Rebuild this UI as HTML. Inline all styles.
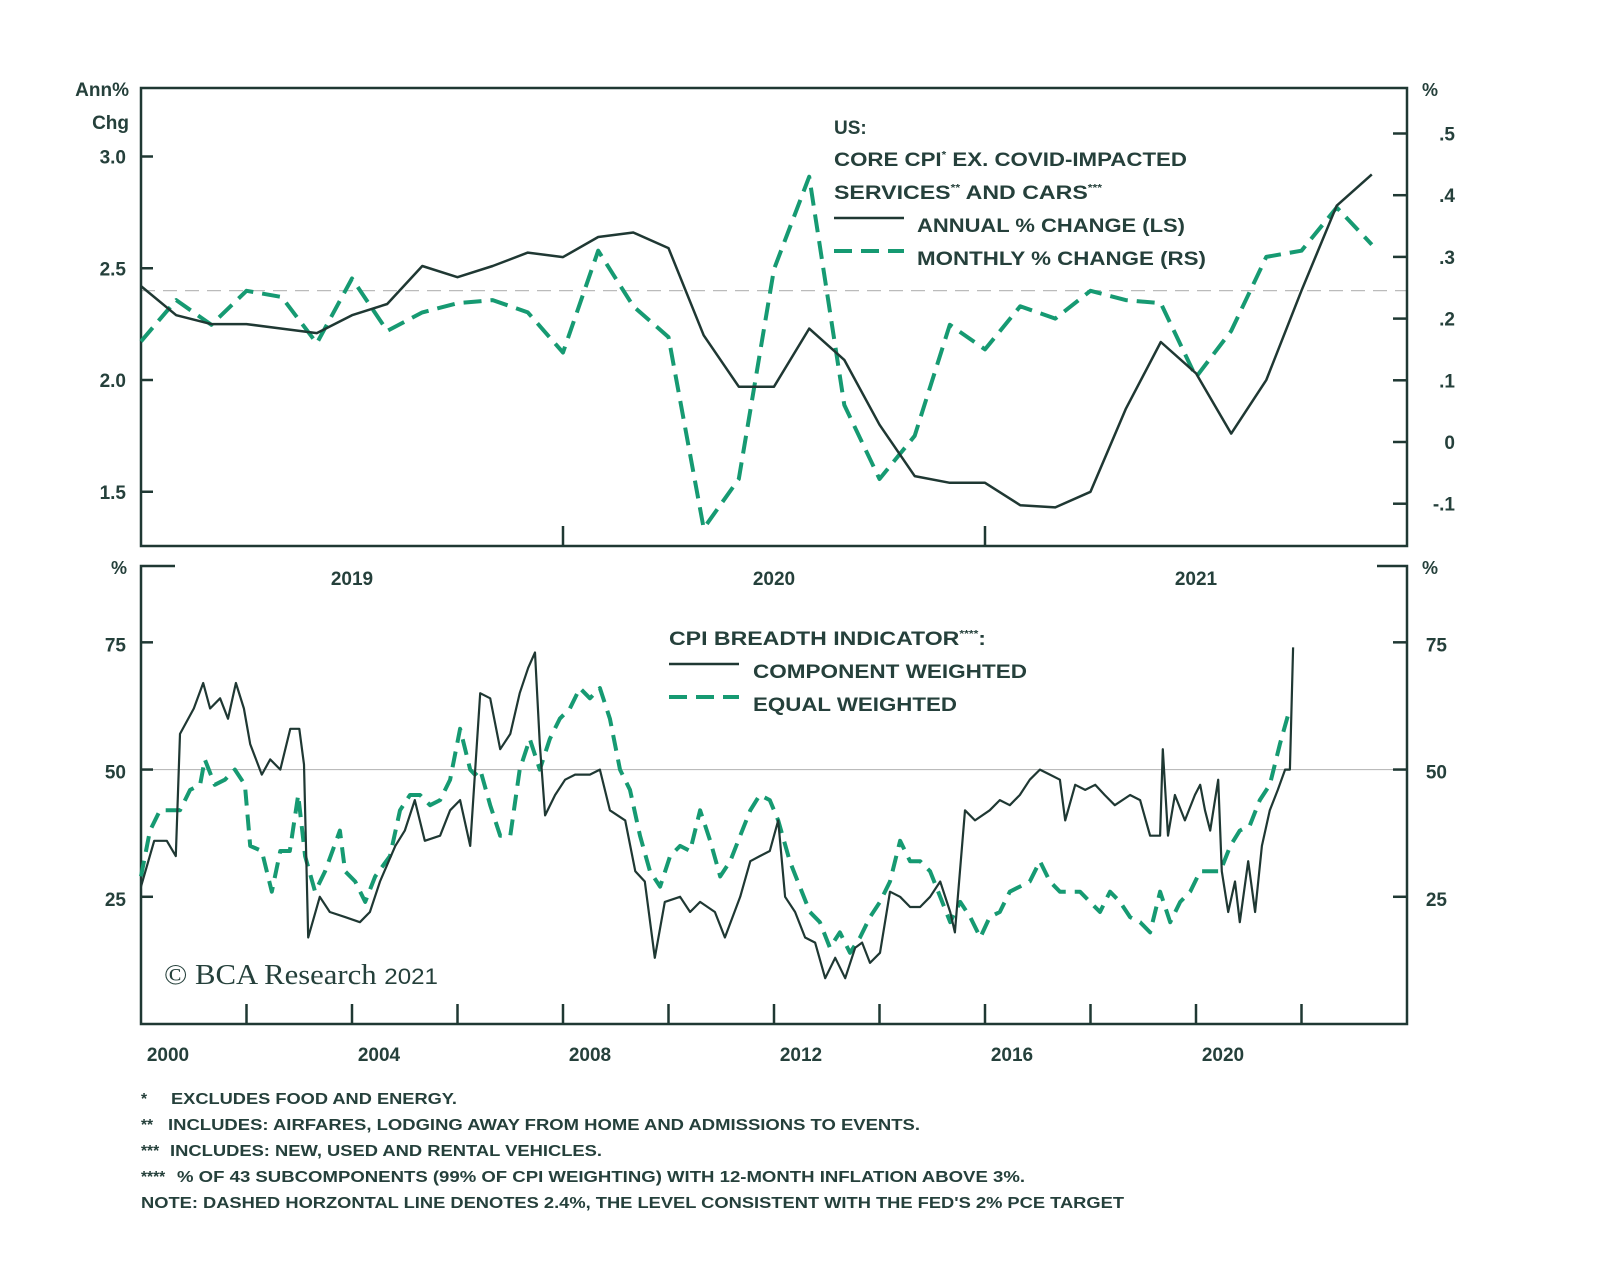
<!DOCTYPE html>
<html><head><meta charset="utf-8"><style>
body{margin:0;background:#fff}
svg{display:block;font-family:"Liberation Sans",sans-serif}
.t{fill:#25403b;font-weight:bold}
</style></head><body>
<svg id="chart" width="1600" height="1265" viewBox="0 0 1600 1265" xmlns="http://www.w3.org/2000/svg">
<g id="topPanel"></g>
<g id="botPanel"></g>
<g class="t" font-size="19">
<text x="834" y="134">US:</text>
<text x="834" y="166" textLength="353" lengthAdjust="spacingAndGlyphs">CORE CPI<tspan font-size="10" dy="-8">*</tspan><tspan dy="8"> EX. COVID-IMPACTED</tspan></text>
<text x="834" y="199" textLength="268" lengthAdjust="spacingAndGlyphs">SERVICES<tspan font-size="10" dy="-8">**</tspan><tspan dy="8"> AND CARS</tspan><tspan font-size="10" dy="-8">***</tspan></text>
<line x1="834" y1="218" x2="904" y2="218" stroke="#1f3833" stroke-width="2.5"/>
<text x="917" y="232" textLength="268" lengthAdjust="spacingAndGlyphs">ANNUAL % CHANGE (LS)</text>
<line x1="834" y1="251" x2="904" y2="251" stroke="#169a72" stroke-width="4" stroke-dasharray="18,9"/>
<text x="917" y="265" textLength="289" lengthAdjust="spacingAndGlyphs">MONTHLY % CHANGE (RS)</text>
</g>
<g class="t" font-size="19">
<text x="669" y="645" textLength="317" lengthAdjust="spacingAndGlyphs">CPI BREADTH INDICATOR<tspan font-size="10" dy="-8">****</tspan><tspan dy="8">:</tspan></text>
<line x1="669" y1="664" x2="739" y2="664" stroke="#1f3833" stroke-width="2.5"/>
<text x="753" y="678" textLength="274" lengthAdjust="spacingAndGlyphs">COMPONENT WEIGHTED</text>
<line x1="669" y1="697" x2="739" y2="697" stroke="#169a72" stroke-width="4" stroke-dasharray="18,9"/>
<text x="753" y="711" textLength="204" lengthAdjust="spacingAndGlyphs">EQUAL WEIGHTED</text>
</g>
<text x="164" y="984" font-family="Liberation Serif,serif" font-size="28" fill="#25403b" textLength="274" lengthAdjust="spacingAndGlyphs">© BCA Research <tspan font-family="Liberation Sans,sans-serif" font-size="22">2021</tspan></text>
<g class="t" font-size="15.5">
<text x="141" y="1104">*</text>
<text x="171" y="1104" textLength="286" lengthAdjust="spacingAndGlyphs">EXCLUDES FOOD AND ENERGY.</text>
<text x="141" y="1130">**</text>
<text x="168" y="1130" textLength="752" lengthAdjust="spacingAndGlyphs">INCLUDES: AIRFARES, LODGING AWAY FROM HOME AND ADMISSIONS TO EVENTS.</text>
<text x="141" y="1156">***</text>
<text x="170" y="1156" textLength="432" lengthAdjust="spacingAndGlyphs">INCLUDES: NEW, USED AND RENTAL VEHICLES.</text>
<text x="141" y="1182">****</text>
<text x="177" y="1182" textLength="848" lengthAdjust="spacingAndGlyphs">% OF 43 SUBCOMPONENTS (99% OF CPI WEIGHTING) WITH 12-MONTH INFLATION ABOVE 3%.</text>
<text x="141" y="1208" textLength="983" lengthAdjust="spacingAndGlyphs">NOTE: DASHED HORZONTAL LINE DENOTES 2.4%, THE LEVEL CONSISTENT WITH THE FED'S 2% PCE TARGET</text>
</g>
</svg>
<script>
// ---- top panel data (monthly, Jan 2019 .. Dec 2021 index) ----
const topMonths = [0,1,2,3,4,5,6,7,8,9,10,11,12,13,14,15,16,17,18,19,20,21,22,23,24,25,26,27,28,29,30,31,32,33,34,35];
const annualChg = [2.42,2.29,2.25,2.25,2.23,2.21,2.29,2.34,2.51,2.46,2.51,2.57,2.55,2.64,2.66,2.59,2.20,1.97,1.97,2.23,2.09,1.80,1.57,1.54,1.54,1.44,1.43,1.50,1.87,2.17,2.03,1.76,2.00,2.40,2.78,2.92];
const monthlyChg = [0.163,0.23,0.19,0.245,0.235,0.16,0.265,0.18,0.21,0.225,0.23,0.21,0.145,0.31,0.22,0.17,-0.14,-0.06,0.28,0.43,0.06,-0.06,0.01,0.19,0.15,0.22,0.20,0.245,0.23,0.225,0.105,0.18,0.30,0.31,0.38,0.32];
const leftTicks = [1.5,2.0,2.5,3.0];
const leftTickLabels = ["1.5","2.0","2.5","3.0"];
const rightTicks = [-0.1,0,0.1,0.2,0.3,0.4,0.5];
const rightTickLabels = ["-.1","0",".1",".2",".3",".4",".5"];
const topYears = ["2019","2020","2021"];
const refLevel = 2.4;
// ---- bottom panel data ----
const compDates = [0,0.25,0.49,0.66,0.74,1.0,1.18,1.31,1.5,1.65,1.8,1.95,2.07,2.29,2.45,2.64,2.83,3.0,3.09,3.17,3.39,3.58,3.87,4.15,4.34,4.53,4.82,5.0,5.19,5.38,5.67,5.86,6.05,6.24,6.43,6.62,6.81,7.0,7.18,7.34,7.47,7.56,7.66,7.85,8.04,8.23,8.51,8.7,8.89,9.18,9.37,9.55,9.74,9.93,10.22,10.41,10.6,10.88,11.07,11.36,11.55,11.73,11.92,12.08,12.21,12.4,12.59,12.78,12.97,13.16,13.35,13.54,13.67,13.82,14.01,14.2,14.39,14.58,14.77,14.96,15.15,15.34,15.43,15.62,15.81,16.09,16.28,16.47,16.66,16.85,17.04,17.23,17.42,17.52,17.71,17.9,18.09,18.27,18.46,18.75,18.94,19.13,19.32,19.37,19.47,19.6,19.79,19.98,20.08,20.17,20.27,20.42,20.49,20.61,20.74,20.83,20.99,21.12,21.25,21.4,21.55,21.69,21.78,21.84];
const compWeighted = [27,36,36,33,57,62,67,62,64,60,67,62,55,49,52,50,58,58,51,17,25,22,21,20,22,28,35,38,44,36,37,42,44,35,65,64,54,57,65,70,73,55,41,45,48,49,49,50,42,40,30,28,13,24,25,22,24,22,17,25,32,33,34,40,25,22,17,16,9,13,9,15,16,12,14,26,25,23,23,25,28,22,18,42,40,42,44,43,45,48,50,49,48,40,47,46,47,45,43,45,44,37,37,54,37,45,40,45,47,42,38,48,30,22,28,20,32,22,35,42,46,50,50,74];
const eqDates = [0,.17,.36,.55,.74,.93,1.12,1.21,1.40,1.59,1.78,1.97,2.07,2.29,2.48,2.64,2.82,2.98,3.11,3.30,3.49,3.77,3.87,4.06,4.25,4.44,4.72,4.91,5.10,5.29,5.48,5.67,5.86,6.05,6.24,6.33,6.43,6.62,6.81,7.0,7.18,7.37,7.56,7.75,7.94,8.13,8.32,8.51,8.70,8.89,9.08,9.27,9.46,9.65,9.84,10.03,10.22,10.41,10.60,10.79,10.98,11.17,11.36,11.55,11.73,11.92,12.08,12.30,12.49,12.68,12.87,13.06,13.25,13.44,13.63,13.82,14.01,14.20,14.39,14.58,14.77,14.96,15.15,15.34,15.53,15.72,15.91,16.09,16.28,16.47,16.66,16.85,17.04,17.23,17.42,17.61,17.80,17.99,18.18,18.37,18.56,18.75,18.94,19.13,19.32,19.51,19.70,19.89,20.08,20.27,20.46,20.65,20.83,21.02,21.21,21.40,21.59,21.78];
const eqWeighted = [29,38,42,42,42,46,47,52,47,48,50,47,35,34,26,34,34,45,33,26,30,38,30,28,24,29,33,42,45,45,43,44,48,58,50,49,50,43,37,37,50,56,50,56,60,62,66,64,66,60,50,46,37,30,27,33,35,34,42,36,29,32,37,42,45,44,40,32,27,22,20,15,18,14,17,21,24,28,36,32,32,30,25,20,24,21,17,21,22,26,27,28,32,28,26,26,26,24,22,26,24,21,20,18,26,20,24,26,30,30,30,35,38,39,44,47,55,62];
const botTicks = [25,50,75];
const botTickLabels = ["25","50","75"];
const botYearLabels = ["2000","2004","2008","2012","2016","2020"];
const botYearVals = [2000,2004,2008,2012,2016,2020];

const NS="http://www.w3.org/2000/svg";
const DARK="#1f3833", GREEN="#169a72", TXT="#25403b";
function mk(parent,tag,attrs){const e=document.createElementNS(NS,tag);for(const k in attrs)e.setAttribute(k,attrs[k]);parent.appendChild(e);return e;}
const L=141,R=1407;
const T0=88,T1=546;
const xT=m=>L+(m/36)*(R-L);
const yL=v=>380-(v-2.0)*223.5;
const yR=v=>442-v*617;
const B0=566,B1=1024;
const xB=t=>L+(t/24)*(R-L);
const yB=v=>B1-v*(B1-B0)/90;

const topG=document.getElementById('topPanel');
const botG=document.getElementById('botPanel');
let e=mk(topG,'line',{x1:L,x2:R,y1:yL(refLevel),y2:yL(refLevel),stroke:'#bbb','stroke-width':1.2,'stroke-dasharray':'14,8'});


e=mk(botG,'line',{x1:L,x2:R,y1:yB(50),y2:yB(50),stroke:'#bbb','stroke-width':1.2});


e=mk(topG,'rect',{x:L,y:T0,width:R-L,height:T1-T0,fill:'none',stroke:DARK,'stroke-width':2.5});


e=mk(botG,'path',{d:`M175,${B0}H${L}V${B1}H${R}V${B0}H1377`,fill:'none',stroke:DARK,'stroke-width':2.5});


leftTicks.forEach((v,i)=>{const y=yL(v);
 e=mk(topG,'line',{x1:L,x2:L+12,y1:y,y2:y,stroke:DARK,'stroke-width':2.5});
 
 
 e=mk(topG,'text',{x:126,y:y+7,'text-anchor':'end','font-size':19,'font-weight':'bold',fill:TXT});e.textContent=leftTickLabels[i];
 
 });
rightTicks.forEach((v,i)=>{const y=yR(v);
 e=mk(topG,'line',{x1:R-14,x2:R,y1:y,y2:y,stroke:DARK,'stroke-width':2.5});
 
 
 e=mk(topG,'text',{x:1455,y:y+7,'text-anchor':'end','font-size':19,'font-weight':'bold',fill:TXT});e.textContent=rightTickLabels[i];
 
 });
[["Ann%",96],["Chg",129]].forEach(a=>{e=mk(topG,'text',{x:129,y:a[1],'text-anchor':'end','font-size':19,'font-weight':'bold',fill:TXT});e.textContent=a[0];
 
 });
[[96,1430],[574,119],[574,1430]].forEach(a=>{e=mk(topG,'text',{x:a[1],y:a[0],'text-anchor':'middle','font-size':18,'font-weight':'bold',fill:TXT});e.textContent='%';
 
 });
topYears.forEach((s,i)=>{const x=xT(12*i+6);
 e=mk(topG,'text',{x:x,y:585,'text-anchor':'middle','font-size':19,'font-weight':'bold',fill:TXT});e.textContent=s;
 
 
 if(i>0){e=mk(topG,'line',{x1:xT(12*i),x2:xT(12*i),y1:T1,y2:T1-20,stroke:DARK,'stroke-width':2.5});
 
 }});
function pathOf(xs,ys,fx,fy){return xs.map((x,i)=>(i?'L':'M')+fx(x).toFixed(1)+','+fy(ys[i]).toFixed(1)).join('');}
e=mk(topG,'path',{d:pathOf(topMonths,monthlyChg,xT,yR),fill:'none',stroke:GREEN,'stroke-width':4,'stroke-dasharray':'18,9','stroke-linejoin':'round'});


e=mk(topG,'path',{d:pathOf(topMonths,annualChg,xT,yL),fill:'none',stroke:DARK,'stroke-width':2.5,'stroke-linejoin':'round'});


botTicks.forEach((v,i)=>{const y=yB(v);
 e=mk(botG,'line',{x1:L,x2:L+12,y1:y,y2:y,stroke:DARK,'stroke-width':2.5});
 
 
 e=mk(botG,'line',{x1:R-14,x2:R,y1:y,y2:y,stroke:DARK,'stroke-width':2.5});
 
 
 e=mk(botG,'text',{x:126,y:y+9,'text-anchor':'end','font-size':19,'font-weight':'bold',fill:TXT});e.textContent=botTickLabels[i];
 
 
 e=mk(botG,'text',{x:1447,y:y+9,'text-anchor':'end','font-size':19,'font-weight':'bold',fill:TXT});e.textContent=botTickLabels[i];
 
 });
for(let yr=2002;yr<=2022;yr+=2){const x=xB(yr-2000);
 e=mk(botG,'line',{x1:x,x2:x,y1:B1,y2:B1-20,stroke:DARK,'stroke-width':2.5});
 
 }
botYearLabels.forEach((s,i)=>{const x=xB(botYearVals[i]-2000);
 e=mk(botG,'text',{x:x+27,y:1061,'text-anchor':'middle','font-size':19,'font-weight':'bold',fill:TXT});e.textContent=s;
 
 });
e=mk(botG,'path',{d:pathOf(eqDates,eqWeighted,xB,yB),fill:'none',stroke:GREEN,'stroke-width':4,'stroke-dasharray':'16,9','stroke-linejoin':'round'});


e=mk(botG,'path',{d:pathOf(compDates,compWeighted,xB,yB),fill:'none',stroke:DARK,'stroke-width':2.2,'stroke-linejoin':'round'});


</script>
</body></html>
